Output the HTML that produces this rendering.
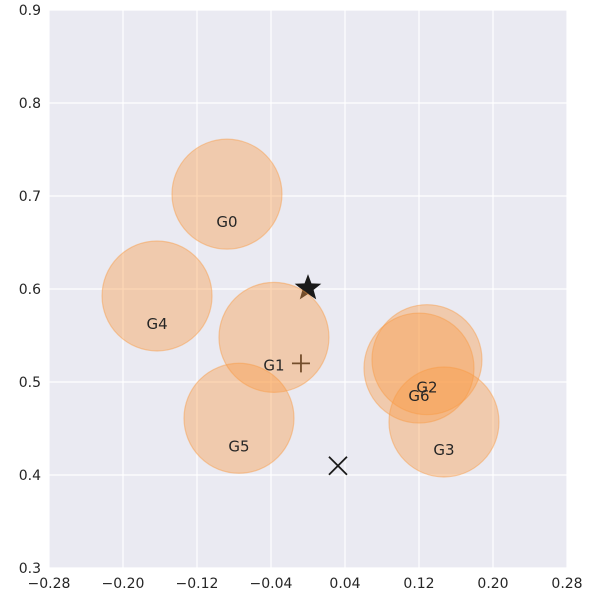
<!DOCTYPE html>
<html><head><meta charset="utf-8"><style>
body{margin:0;background:#fff}
svg text{font-family:"DejaVu Sans","Liberation Sans",sans-serif;fill:#262626}
</style></head><body>
<svg id="chart" width="600" height="600" xmlns="http://www.w3.org/2000/svg"></svg>
<script>
const groupNames=["G0","G1","G2","G3","G4","G5","G6"];
const groupX=[-0.0876,-0.0368,0.1286,0.147,-0.1632,-0.0746,0.12];
const groupY=[0.702,0.548,0.524,0.457,0.5925,0.461,0.515];
const xTicks=[-0.28,-0.20,-0.12,-0.04,0.04,0.12,0.20,0.28];
const yTicks=[0.3,0.4,0.5,0.6,0.7,0.8,0.9];
const starPt=[0.0,0.601];
const plusPt=[-0.0076,0.52];
const crossPt=[0.0324,0.41];
const L=49,R=567,T=10,B=568;
const sx=v=>L+(v+0.28)/0.56*(R-L);
const sy=v=>B-(v-0.3)/0.6*(B-T);
const svg=document.getElementById('chart');
const NS='http://www.w3.org/2000/svg';
function mk(t,a,p){const e=document.createElementNS(NS,t);for(const k in a)e.setAttribute(k,a[k]);(p||svg).appendChild(e);return e;}
const bg=mk('rect',{x:L,y:T,width:R-L,height:B-T,fill:'#eaeaf2'});


xTicks.forEach(v=>{
 const l=mk('line',{x1:sx(v),x2:sx(v),y1:T,y2:B,stroke:'#fff','stroke-width':1.2});
 
 
 const t=mk('text',{x:sx(v),y:B+20,'text-anchor':'middle','font-size':14});
 t.textContent=(v<0?'\u2212':'')+Math.abs(v).toFixed(2);
 
 
});
yTicks.forEach(v=>{
 const l=mk('line',{x1:L,x2:R,y1:sy(v),y2:sy(v),stroke:'#fff','stroke-width':1.2});
 
 
 const t=mk('text',{x:L-8,y:sy(v)+5,'text-anchor':'end','font-size':14});
 t.textContent=v.toFixed(1);
 
 
});
function starPath(cx,cy,r){let d='';for(let i=0;i<10;i++){const a=-Math.PI/2+i*Math.PI/5;const rr=i%2?r*0.42:r;d+=(i?'L':'M')+(cx+rr*Math.cos(a))+','+(cy+rr*Math.sin(a));}return d+'Z';}
const st=mk('path',{d:starPath(sx(starPt[0]),sy(starPt[1]),14),fill:'#1a1a1a'});


const px=sx(plusPt[0]),py=sy(plusPt[1]);
const pl=mk('path',{d:`M${px-9},${py}H${px+9}M${px},${py-9}V${py+9}`,stroke:'#1a1a1a','stroke-width':1.8});


groupNames.forEach((n,i)=>{
 const c=mk('circle',{cx:sx(groupX[i]),cy:sy(groupY[i]),r:55,fill:'#f99b45','fill-opacity':0.4,stroke:'#f99b45','stroke-opacity':0.45,'stroke-width':1.2});
 
 
});
groupNames.forEach((n,i)=>{
 const t=mk('text',{x:sx(groupX[i]),y:sy(groupY[i])+33,'text-anchor':'middle','font-size':15});
 t.textContent=n;
 
 
});
const cx=sx(crossPt[0]),cy=sy(crossPt[1]);
const cr=mk('path',{d:`M${cx-9},${cy-9}L${cx+9},${cy+9}M${cx-9},${cy+9}L${cx+9},${cy-9}`,stroke:'#1a1a1a','stroke-width':1.8});


</script>
</body></html>
